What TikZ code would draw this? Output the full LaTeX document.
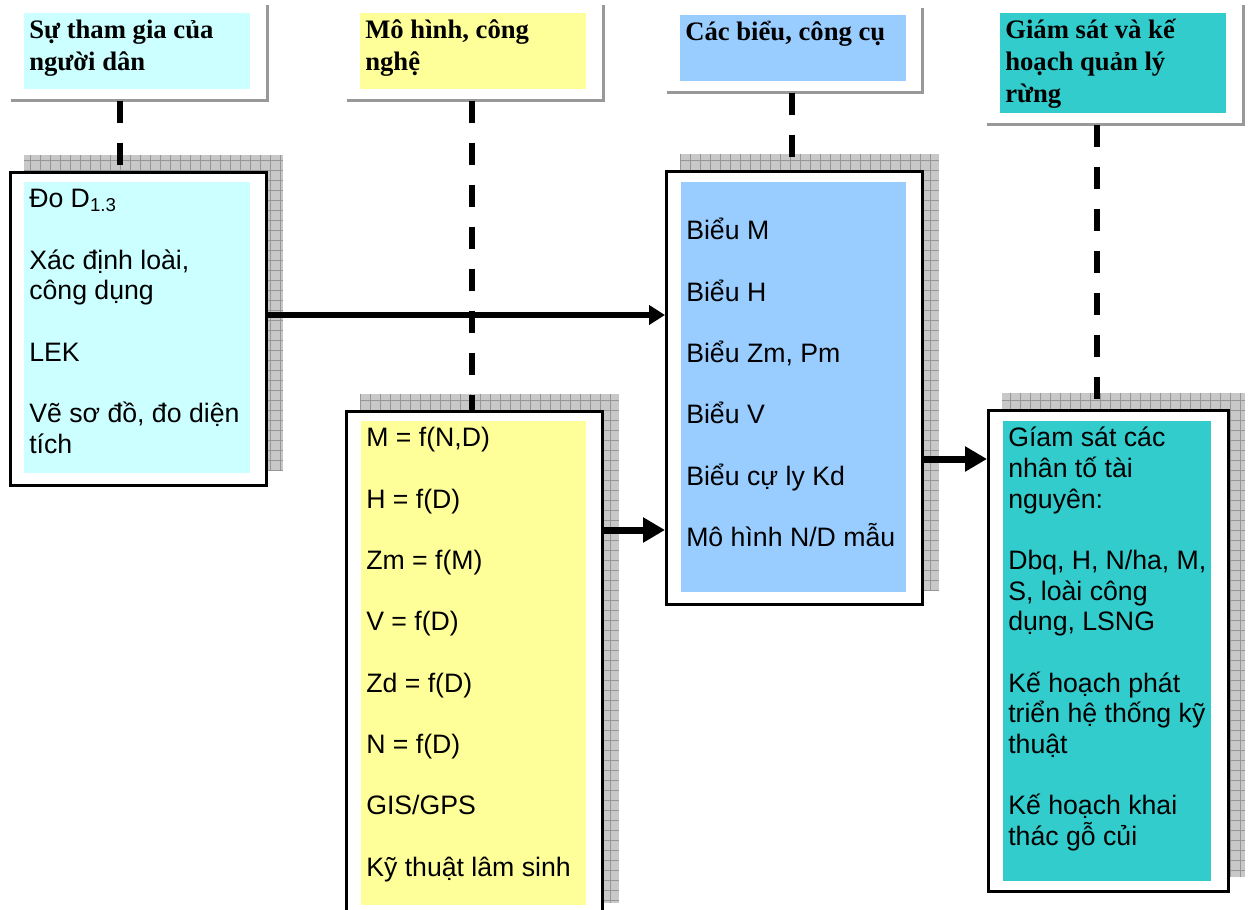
\documentclass[tikz,border=0pt]{standalone}
\usepackage{fontspec}
\setmainfont{Liberation Serif}
\setsansfont{Liberation Sans}
\usetikzlibrary{arrows.meta,backgrounds}
\tikzset{>=latex}
\definecolor{mycyan}{RGB}{204,255,255}
\definecolor{myyellow}{RGB}{255,255,153}
\definecolor{myblue}{RGB}{153,204,255}
\definecolor{myteal}{RGB}{51,204,204}
\definecolor{myshade}{RGB}{200,200,200}
\definecolor{mygrid}{RGB}{150,150,150}
\definecolor{myedge}{RGB}{153,153,153}
\newcommand{\panelbox}[3]{\parbox[t][#2][t]{#1}{\strut#3}}
\newcommand{\gap}{\\[23pt]}
\tikzset{
  boxframe/.style={draw, line width=2.25pt, fill=white, inner sep=0pt, anchor=north west},
  hdrframe/.style={inner sep=0pt, anchor=north west},
  hdredge/.style={draw=myedge, line width=2.25pt},
  panel/.style={fill=#1, inner xsep=3.75pt, inner ysep=3pt, anchor=north west,
    font=\sffamily\fontsize{20}{23}\selectfont},
  hdrpanel/.style={fill=#1, inner xsep=3.75pt, inner ysep=2pt, anchor=north west,
    font=\fontsize{20}{24}\selectfont\bfseries},
  link/.style={line width=4.5pt, dash pattern=on 16.5pt off 15pt},
  flow/.style={-{Triangle[length=12pt,width=14.25pt]}, line width=4.5pt},
  bigflow/.style={-{Triangle[length=16.5pt,width=18pt]}, line width=5.25pt},
}

\begin{document}
\begin{tikzpicture}[x=0.75pt,y=-0.75pt]
  \useasboundingbox (0,0) rectangle (1250,910);

  \def\xa{120} % dashed links
  \def\xb{472}
  \def\xc{792}
  \def\xd{1097}

  % headers
  \node[hdrframe, minimum width=192pt, minimum height=71.25pt] (h1) at (11,5) {};
  \node[hdrframe, minimum width=192pt, minimum height=71.25pt] (h2) at (347,5) {};
  \node[hdrframe, minimum width=191.25pt, minimum height=63pt] (h3) at (667,8) {};
  \node[hdrframe, minimum width=192pt, minimum height=89.25pt] (h4) at (987,5) {};
  \foreach \hd in {h1,h2,h3,h4}
    \draw[hdredge] (\hd.north east) -- (\hd.south east) -- (\hd.south west);

  \node[hdrpanel=mycyan] (t1) at (24,13)
    {\panelbox{162pt}{53pt}{Sự tham gia của\\người dân}};
  \node[hdrpanel=myyellow] (t2) at (360,13)
    {\panelbox{162pt}{53pt}{Mô hình, công\\nghệ}};
  \node[hdrpanel=myblue] (t3) at (680,15)
    {\panelbox{162pt}{45.5pt}{Các biểu, công cụ}};
  \node[hdrpanel=myteal] (t4) at (1000,13)
    {\panelbox{162pt}{71pt}{Giám sát và kế\\hoạch quản lý\\rừng}};

  % boxes
  \node[boxframe, minimum width=192pt, minimum height=234.75pt] (f1) at (9,171) {};
  \node[boxframe, minimum width=192pt, minimum height=379.5pt] (f2) at (345,410) {};
  \node[boxframe, minimum width=192pt, minimum height=324.75pt] (f3) at (665,170) {};
  \node[boxframe, minimum width=180pt, minimum height=360.75pt] (f4) at (987,409) {};

  % grid shadows
  \begin{scope}[on background layer]
    \foreach \fr in {f1,f2,f3,f4}{
      \fill[myshade] ([shift={(11.25pt,12pt)}]\fr.south west)
        rectangle ([shift={(11.25pt,12pt)}]\fr.north east);
      \draw[mygrid, line width=0.75pt, step=7.5pt]
        ([shift={(11.25pt,12pt)}]\fr.south west)
        grid ([shift={(11.25pt,12pt)}]\fr.north east);
    }
  \end{scope}

  \node[panel=mycyan] (p1) at (24,182)
    {\panelbox{162pt}{212.25pt}{Đo D\textsubscript{1.3}\gap
      Xác định loài,\\công dụng\gap LEK\gap Vẽ sơ đồ, đo diện\\tích}};
  \node[panel=myyellow] (p2) at (361,421)
    {\panelbox{161.25pt}{357pt}{M = f(N,D)\gap H = f(D)\gap Zm = f(M)\gap
      V = f(D)\gap Zd = f(D)\gap N = f(D)\gap GIS/GPS\gap Kỹ thuật lâm sinh}};
  \node[panel=myblue] (p3) at (681,182)
    {\panelbox{161.25pt}{301.5pt}{\\Biểu M\gap Biểu H\gap Biểu Zm, Pm\gap
      Biểu V\gap Biểu cự ly Kd\gap Mô hình N/D mẫu}};
  \node[panel=myteal] (p4) at (1003,421)
    {\panelbox{148.5pt}{339pt}{Gíam sát các\\nhân tố tài\\nguyên:\gap
      Dbq, H, N/ha, M,\\S, loài công\\dụng, LSNG\gap
      Kế hoạch phát\\triển hệ thống kỹ\\thuật\gap Kế hoạch khai\\thác gỗ củi}};

  % dashed links
  \draw[link] (h1.south -| \xa,0) -- (f1.north -| \xa,0);
  \draw[link] (h2.south -| \xb,0) -- (f2.north -| \xb,0);
  \draw[link] (h3.south -| \xc,0) -- (f3.north -| \xc,0);
  \draw[link] (h4.south -| \xd,0) -- (f4.north -| \xd,0);

  % arrows
  \draw[flow] (f1.east |- 0,315) -- (f3.west |- 0,315);
  \draw[bigflow] (f2.east |- 0,530) -- (f3.west |- 0,530);
  \draw[bigflow] (f3.east |- 0,459) -- (f4.west |- 0,459);
\end{tikzpicture}
\end{document}
